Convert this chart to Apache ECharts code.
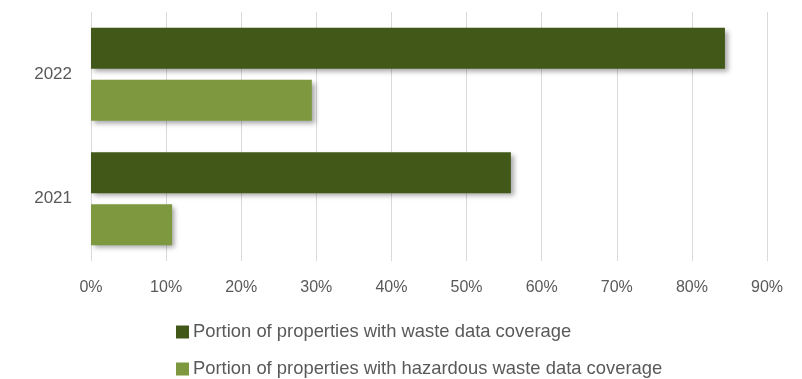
<!DOCTYPE html>
<html>
<head>
<meta charset="utf-8">
<script src="https://cdn.jsdelivr.net/npm/echarts@6/dist/echarts.min.js"></script>
<style>
  html, body { margin: 0; padding: 0; background: #ffffff; }
  #chart { width: 802px; height: 379px; }
</style>
</head>
<body>
<div id="chart"></div>
<script>
// Waste data coverage by reporting year
const years = ['2022', '2021'];
const seriesNames = [
  'Portion of properties with waste data coverage',
  'Portion of properties with hazardous waste data coverage'
];
const wasteCoverage = [84.4, 55.9];
const hazardousCoverage = [29.4, 10.8];
const xTicks = [0, 10, 20, 30, 40, 50, 60, 70, 80, 90];

const FONT = '"Liberation Sans", Arial, sans-serif';
const TEXT = '#595959';

const chart = echarts.init(document.getElementById('chart'), null, { renderer: 'canvas' });

const shadow = {
  shadowBlur: 5,
  shadowOffsetX: 3,
  shadowOffsetY: 3,
  shadowColor: 'rgba(0,0,0,0.35)'
};

const legendBase = {
  left: 176,
  itemWidth: 13,
  itemHeight: 13,
  itemGap: 0,
  icon: 'rect',
  padding: 0,
  textStyle: { color: TEXT, fontFamily: FONT, fontSize: 18.4, padding: [0, 0, 0, -1] }
};

chart.setOption({
  animation: false,
  grid: { left: 91, right: 35, top: 12, bottom: 118, containLabel: false },
  xAxis: {
    type: 'value',
    min: xTicks[0],
    max: xTicks[xTicks.length - 1],
    interval: 10,
    axisLine: { show: false },
    axisTick: { show: false },
    splitLine: { show: true, lineStyle: { color: '#d9d9d9', width: 1 } },
    axisLabel: {
      formatter: v => v + '%',
      color: TEXT,
      fontFamily: FONT,
      fontSize: 16,
      margin: 19
    }
  },
  yAxis: {
    type: 'category',
    data: years,
    inverse: true,
    axisLine: { show: false },
    axisTick: { show: false },
    axisLabel: { color: TEXT, fontFamily: FONT, fontSize: 17, margin: 19 }
  },
  legend: [
    Object.assign({ top: 323, data: [seriesNames[0]] }, legendBase),
    Object.assign({ top: 360, data: [seriesNames[1]] }, legendBase)
  ],
  series: [
    {
      name: seriesNames[0],
      type: 'bar',
      data: wasteCoverage,
      barWidth: 41,
      barGap: '27%',
      barCategoryGap: '25%',
      itemStyle: Object.assign({ color: '#415819' }, shadow)
    },
    {
      name: seriesNames[1],
      type: 'bar',
      data: hazardousCoverage,
      barWidth: 41,
      barGap: '27%',
      itemStyle: Object.assign({ color: '#7e9840' }, shadow)
    }
  ]
});
</script>
</body>
</html>
